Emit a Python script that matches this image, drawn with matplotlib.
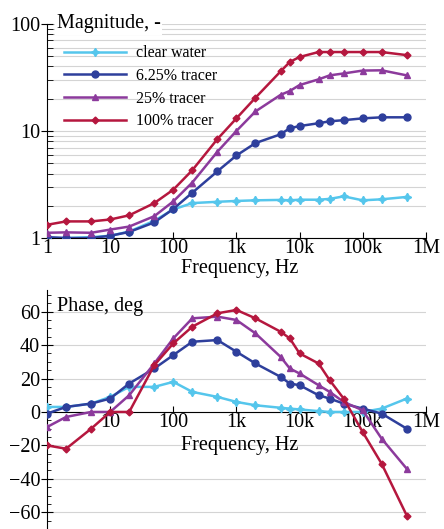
import matplotlib
matplotlib.use("Agg")
import matplotlib.pyplot as plt
from matplotlib.ticker import FixedLocator, NullFormatter, MultipleLocator

plt.rcParams["font.family"] = ["Liberation Serif", "DejaVu Serif"]

# frequencies, Hz
freq = [1, 2, 5, 10, 20, 50, 100, 200, 500, 1e3, 2e3, 5e3, 7e3, 1e4,
        2e4, 3e4, 5e4, 1e5, 2e5, 5e5]

labels = ["clear water", "6.25% tracer", "25% tracer", "100% tracer"]

# magnitude, -
mag_water = [1.0, 1.0, 1.02, 1.05, 1.15, 1.45, 1.85, 2.12, 2.18, 2.22, 2.25,
             2.27, 2.25, 2.28, 2.28, 2.32, 2.45, 2.25, 2.3, 2.42]
mag_625 = [1.02, 1.0, 1.0, 1.05, 1.14, 1.4, 1.87, 2.65, 4.2, 5.9, 7.7, 9.3,
           10.6, 11.1, 11.8, 12.3, 12.6, 13.1, 13.4, 13.4]
mag_25 = [1.12, 1.13, 1.12, 1.2, 1.28, 1.6, 2.2, 3.3, 6.4, 10.0, 15.2, 21.7,
          23.6, 26.8, 30.3, 33.0, 34.4, 36.6, 36.8, 33.0]
mag_100 = [1.33, 1.43, 1.43, 1.49, 1.63, 2.12, 2.83, 4.3, 8.4, 13.1, 20.4,
           35.9, 44.0, 49.0, 54.5, 54.5, 54.5, 54.5, 54.5, 51.0]

# phase, deg
ph_water = [3, 3, 5, 9, 15, 15, 18, 12, 9, 6, 4, 2.5, 2, 1.5, 0.5, 0, 0, 0,
            2, 8]
ph_625 = [-1, 3, 5, 8, 17, 26, 34, 42, 43, 36, 29, 21, 17, 16, 10, 8, 5, 2,
          -1, -10]
ph_25 = [-9, -3, 0, 0, 10, 29, 44, 56, 57, 55, 47, 33, 26, 23, 16, 12, 6, 1,
         -16, -34]
ph_100 = [-20, -22, -10, 0, 0, 28, 41, 51, 59, 61, 56, 48, 44, 35, 29, 19, 8,
          -12, -31, -62]

colors = ["#55c6ec", "#2e3f9c", "#8c3a9c", "#b5173e"]
markers = [(4, 1, 0), "o", "^", "D"]
msizes = [6, 5, 5, 3.5]

xticks = [1, 10, 100, 1e3, 1e4, 1e5, 1e6]
xticklabels = ["1", "10", "100", "1k", "10k", "100k", "1M"]

FS = 14.5
GRID = "#d4d4d4"

fig = plt.figure(figsize=(4.44, 5.29), dpi=100)

# ---- magnitude
ax1 = fig.add_axes([0.106, 0.55, 0.853, 0.405])
for y, lab, c, m, ms in zip([mag_water, mag_625, mag_25, mag_100], labels,
                            colors, markers, msizes):
    ax1.plot(freq, y, color=c, marker=m, ms=ms, lw=1.8, label=lab, zorder=3)
ax1.set_xscale("log")
ax1.set_yscale("log")
ax1.set_xlim(1, 1e6)
ax1.set_ylim(1, 100)
ax1.set_xticks(xticks)
ax1.set_xticklabels(xticklabels)
ax1.xaxis.set_minor_locator(FixedLocator([]))
ax1.set_yticks([1, 10, 100])
ax1.set_yticklabels(["1", "10", "100"])
ax1.yaxis.set_minor_locator(FixedLocator(
    [k * 10 ** d for d in (0, 1) for k in range(2, 10)]))
ax1.yaxis.set_minor_formatter(NullFormatter())
ax1.grid(True, which="both", axis="y", color=GRID, lw=0.8, zorder=0)
ax1.spines["top"].set_visible(False)
ax1.spines["right"].set_visible(False)
ax1.tick_params(axis="y", which="major", direction="inout", length=8,
                labelsize=FS, pad=1)
ax1.tick_params(axis="y", which="minor", direction="in", length=4)
ax1.tick_params(axis="x", which="major", direction="in", length=4,
                labelsize=FS, pad=1)
ax1.text(0.025, 1.0, "Magnitude, -", transform=ax1.transAxes, fontsize=FS,
         va="center", ha="left",
         bbox=dict(facecolor="white", edgecolor="none", pad=1))
leg = ax1.legend(loc="upper left", bbox_to_anchor=(0.045, 0.9), frameon=False,
                 fontsize=11.5, handlelength=3.9, handletextpad=0.6,
                 labelspacing=0.42, borderaxespad=0, borderpad=0)
fig.text(0.54, 0.493, "Frequency, Hz", fontsize=FS, ha="center", va="center")

# ---- phase
ax2 = fig.add_axes([0.106, 0.0, 0.853, 0.452])
for y, c, m, ms in zip([ph_water, ph_625, ph_25, ph_100], colors, markers,
                       msizes):
    ax2.plot(freq, y, color=c, marker=m, ms=ms, lw=1.8, zorder=3)
ax2.set_xscale("log")
ax2.set_xlim(1, 1e6)
ax2.set_ylim(-70, 73)
ax2.set_xticks(xticks)
ax2.set_xticklabels([""] + xticklabels[1:])
ax2.xaxis.set_minor_locator(FixedLocator([]))
ax2.set_yticks([-60, -40, -20, 0, 20, 40, 60])
ax2.yaxis.set_minor_locator(MultipleLocator(5))
ax2.grid(True, which="major", axis="y", color=GRID, lw=0.8, zorder=0)
ax2.spines["top"].set_visible(False)
ax2.spines["right"].set_visible(False)
ax2.spines["bottom"].set_position(("data", 0))
ax2.tick_params(axis="y", which="major", direction="inout", length=8,
                labelsize=FS, pad=1)
ax2.tick_params(axis="y", which="minor", direction="in", length=3)
ax2.tick_params(axis="x", which="major", direction="in", length=4,
                labelsize=FS, pad=1)
ax2.text(0.025, 0.93, "Phase, deg", transform=ax2.transAxes, fontsize=FS,
         va="center", ha="left")
fig.text(0.54, 0.158, "Frequency, Hz", fontsize=FS, ha="center",
         va="center")

fig.savefig("out.png", dpi=100, facecolor="white")
